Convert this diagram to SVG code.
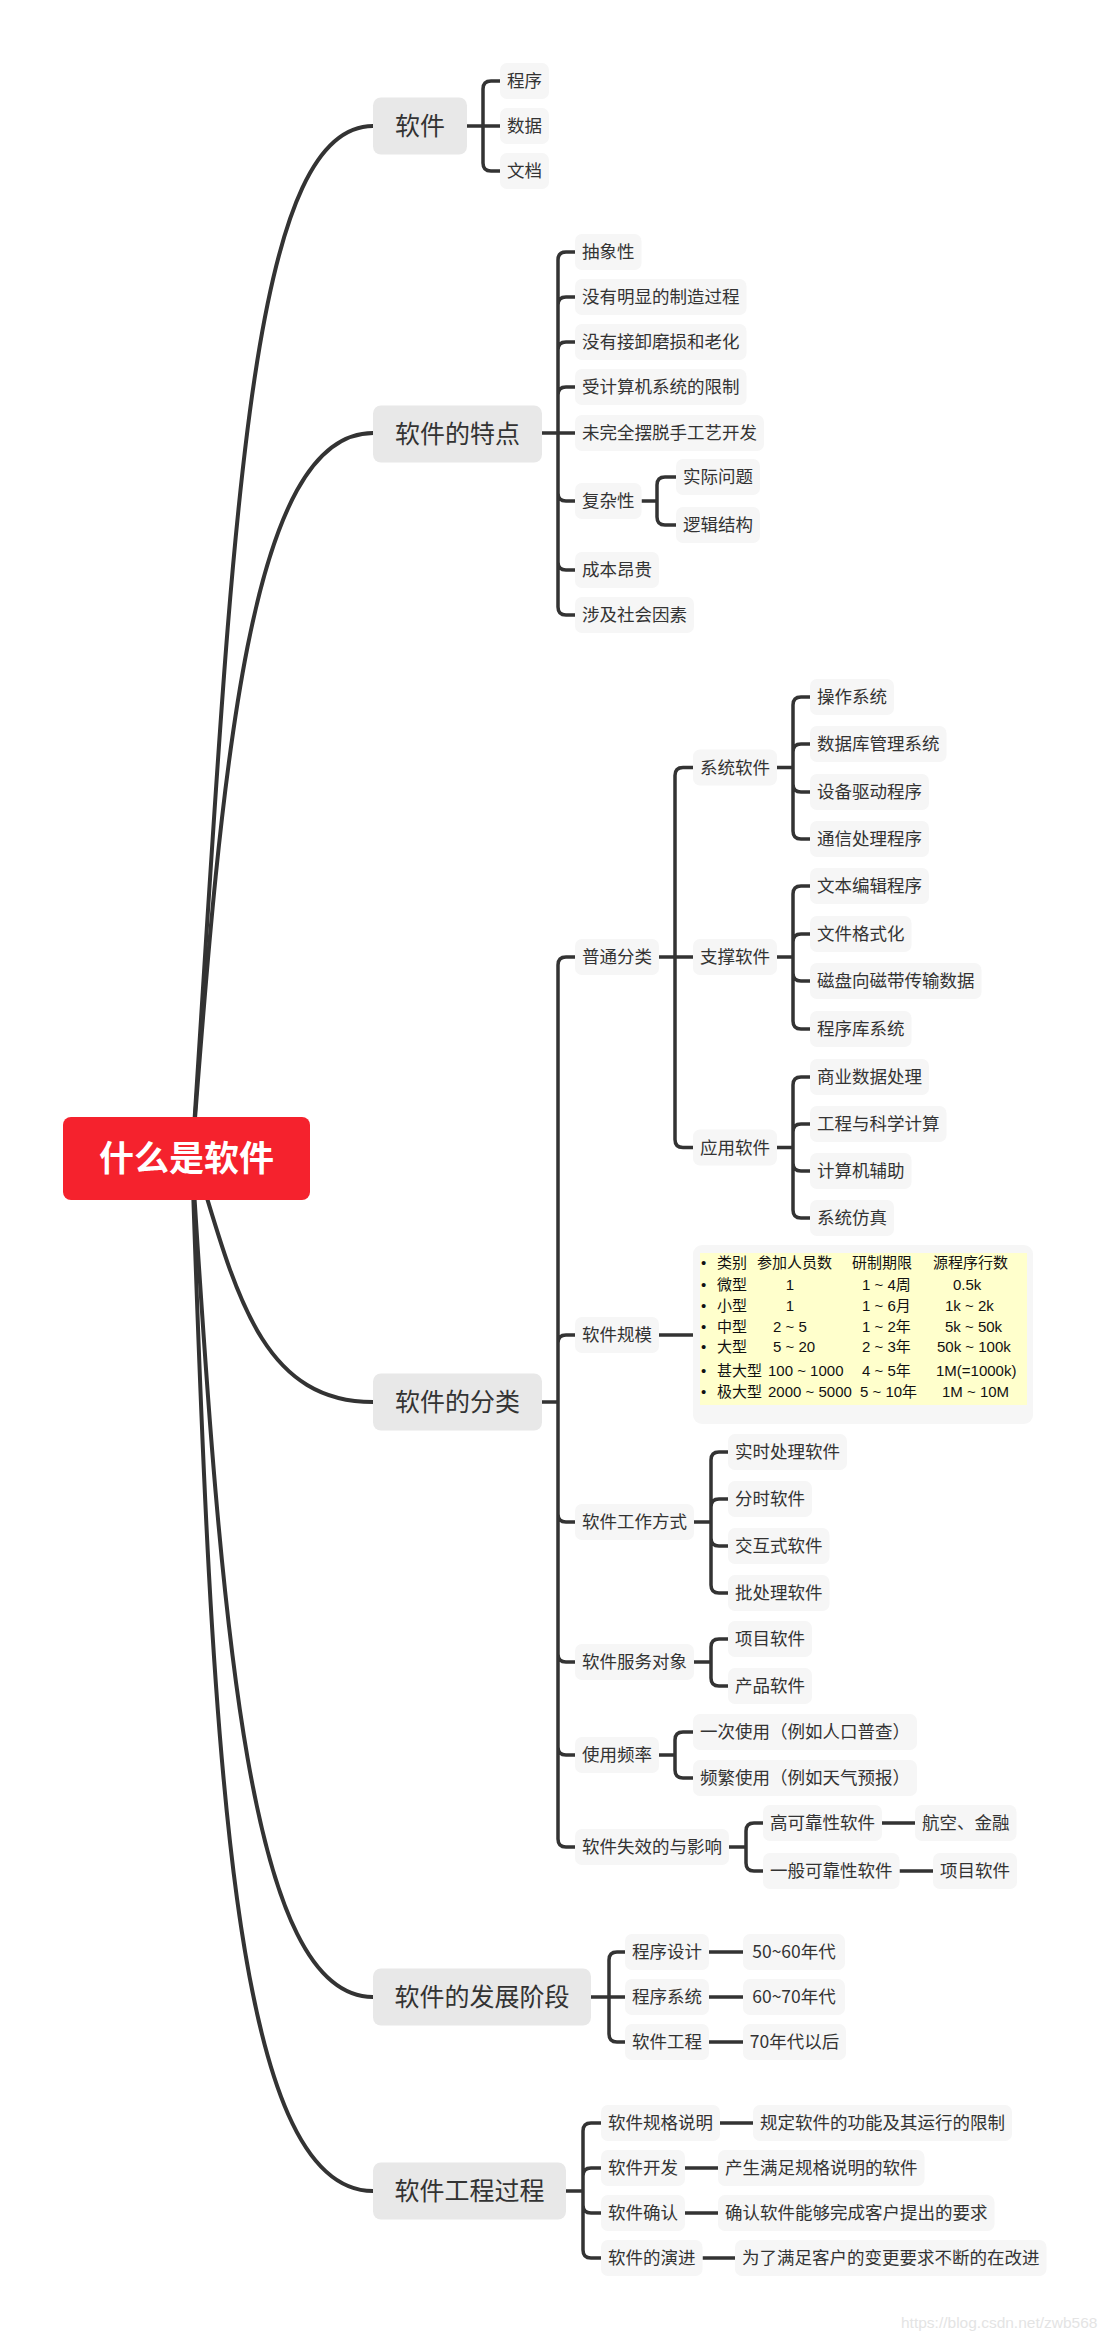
<svg xmlns="http://www.w3.org/2000/svg" width="1110" height="2340" viewBox="0 0 1110 2340">
<style>
.bg{fill:#ffffff}
.c{fill:none;stroke:#333;stroke-width:4;stroke-linecap:round}
.b{fill:none;stroke:#333;stroke-width:3.5;stroke-linecap:butt}
.r1{fill:#e8e8e8}
.r2{fill:#f6f6f6}
.t0{font-family:"Noto Sans CJK SC",sans-serif;font-size:35px;font-weight:bold;fill:#fff;text-anchor:middle}
.t1{font-family:"Noto Sans CJK SC",sans-serif;font-size:25px;fill:#333;text-anchor:middle}
.t2{font-family:"Noto Sans CJK SC",sans-serif;font-size:17.5px;fill:#333;text-anchor:middle}
.tt{font-family:"Liberation Sans","Noto Sans CJK SC",sans-serif;font-size:15px;fill:#111}
.wm{font-family:"Liberation Sans",sans-serif;font-size:15.5px;fill:#e4e4e4}
</style>
<rect class="bg" x="0" y="0" width="1110" height="2340"/>

<g id="connectors">
<path class="c" d="M192 1158 C232 558 244 126 373 126"/>
<path class="c" d="M192 1158 C222 760 250 433 373 433"/>
<path class="c" d="M195 1158 C235 1290 260 1402 373 1402"/>
<path class="c" d="M192 1158 C222 1640 250 1997 373 1997"/>
<path class="c" d="M192 1158 C212 1758 232 2191 373 2191"/>
<!-- 软件 -->
<path class="b" d="M467 126 H500 M483 89 V163 M483 89 Q483 81 491 81 H500 M483 163 Q483 171 491 171 H500"/>
<!-- 软件的特点 -->
<path class="b" d="M542 433 H575 M558 260 V607
M558 260 Q558 252 566 252 H575
M558 305 Q558 297 566 297 H575
M558 350 Q558 342 566 342 H575
M558 395 Q558 387 566 387 H575
M558 493 Q558 501 566 501 H575
M558 562 Q558 570 566 570 H575
M558 607 Q558 615 566 615 H575"/>
<path class="b" d="M641.5 501 H657 M657 485 V517 M657 485 Q657 477 665 477 H676 M657 517 Q657 525 665 525 H676"/>
<!-- 软件的分类 -->
<path class="b" d="M542 1402 H558 M558 965 V1839
M558 965 Q558 957 566 957 H575
M558 1343 Q558 1335 566 1335 H575
M558 1514 Q558 1522 566 1522 H575
M558 1654 Q558 1662 566 1662 H575
M558 1747 Q558 1755 566 1755 H575
M558 1839 Q558 1847 566 1847 H575"/>
<path class="b" d="M659 957 H693 M675 775.5 V1139.5 M675 775.5 Q675 767.5 683 767.5 H693 M675 1139.5 Q675 1147.5 683 1147.5 H693"/>
<path class="b" d="M777 767.5 H793 M793 705 V831
M793 705 Q793 697 801 697 H810
M793 752 Q793 744 801 744 H810
M793 784 Q793 792 801 792 H810
M793 831 Q793 839 801 839 H810"/>
<path class="b" d="M777 957 H793 M793 894 V1021
M793 894 Q793 886 801 886 H810
M793 942 Q793 934 801 934 H810
M793 973 Q793 981 801 981 H810
M793 1021 Q793 1029 801 1029 H810"/>
<path class="b" d="M777 1147.5 H793 M793 1085 V1210
M793 1085 Q793 1077 801 1077 H810
M793 1132 Q793 1124 801 1124 H810
M793 1163 Q793 1171 801 1171 H810
M793 1210 Q793 1218 801 1218 H810"/>
<path class="b" d="M659 1335 H693"/>
<path class="b" d="M694 1522 H711 M711 1460 V1585
M711 1460 Q711 1452 719 1452 H728
M711 1507 Q711 1499 719 1499 H728
M711 1538 Q711 1546 719 1546 H728
M711 1585 Q711 1593 719 1593 H728"/>
<path class="b" d="M694 1662 H711 M711 1647 V1678 M711 1647 Q711 1639 719 1639 H728 M711 1678 Q711 1686 719 1686 H728"/>
<path class="b" d="M659 1755 H675 M675 1740 V1770 M675 1740 Q675 1732 683 1732 H693 M675 1770 Q675 1778 683 1778 H693"/>
<path class="b" d="M729 1847 H746 M746 1831 V1863 M746 1831 Q746 1823 754 1823 H763 M746 1863 Q746 1871 754 1871 H763"/>
<path class="b" d="M882 1823 H915 M899.5 1871 H933"/>
<!-- 软件的发展阶段 -->
<path class="b" d="M591 1997 H625 M609 1960 V2034 M609 1960 Q609 1952 617 1952 H625 M609 2034 Q609 2042 617 2042 H625"/>
<path class="b" d="M709 1952 H743 M709 1997 H743 M709 2042 H743"/>
<!-- 软件工程过程 -->
<path class="b" d="M566 2191 H583 M583 2131 V2250
M583 2131 Q583 2123 591 2123 H601
M583 2176 Q583 2168 591 2168 H601
M583 2205 Q583 2213 591 2213 H601
M583 2250 Q583 2258 591 2258 H601"/>
<path class="b" d="M720 2123 H753 M685 2168 H718 M685 2213 H718 M702.5 2258 H735"/>
</g>

<g id="root"><rect x="63" y="1117" width="247" height="83" rx="8" fill="#f5222d"/><text class="t0" x="186.5" y="1171">什么是软件</text></g>

<g id="n1"><rect class="r1" x="373" y="97.5" width="94" height="57" rx="8"/><text class="t1" x="420" y="135">软件</text></g>
<g id="n1a"><rect class="r2" x="500" y="63" width="49" height="36" rx="7"/><text class="t2" x="524.5" y="87">程序</text></g>
<g id="n1b"><rect class="r2" x="500" y="108" width="49" height="36" rx="7"/><text class="t2" x="524.5" y="132">数据</text></g>
<g id="n1c"><rect class="r2" x="500" y="153" width="49" height="36" rx="7"/><text class="t2" x="524.5" y="177">文档</text></g>

<g id="n2"><rect class="r1" x="373" y="405.5" width="169" height="57" rx="8"/><text class="t1" x="457.5" y="443">软件的特点</text></g>
<g id="n2a"><rect class="r2" x="575" y="234" width="66.5" height="36" rx="7"/><text class="t2" x="608.25" y="258">抽象性</text></g>
<g id="n2b"><rect class="r2" x="575" y="279" width="171.5" height="36" rx="7"/><text class="t2" x="660.75" y="303">没有明显的制造过程</text></g>
<g id="n2c"><rect class="r2" x="575" y="324" width="171.5" height="36" rx="7"/><text class="t2" x="660.75" y="348">没有接卸磨损和老化</text></g>
<g id="n2d"><rect class="r2" x="575" y="369" width="171.5" height="36" rx="7"/><text class="t2" x="660.75" y="393">受计算机系统的限制</text></g>
<g id="n2e"><rect class="r2" x="575" y="415" width="189" height="36" rx="7"/><text class="t2" x="669.5" y="439">未完全摆脱手工艺开发</text></g>
<g id="n2f"><rect class="r2" x="575" y="483" width="66.5" height="36" rx="7"/><text class="t2" x="608.25" y="507">复杂性</text></g>
<g id="n2f1"><rect class="r2" x="676" y="459" width="84" height="36" rx="7"/><text class="t2" x="718" y="483">实际问题</text></g>
<g id="n2f2"><rect class="r2" x="676" y="507" width="84" height="36" rx="7"/><text class="t2" x="718" y="531">逻辑结构</text></g>
<g id="n2g"><rect class="r2" x="575" y="552" width="84" height="36" rx="7"/><text class="t2" x="617" y="576">成本昂贵</text></g>
<g id="n2h"><rect class="r2" x="575" y="597" width="119" height="36" rx="7"/><text class="t2" x="634.5" y="621">涉及社会因素</text></g>

<g id="n3"><rect class="r1" x="373" y="1373.5" width="169" height="57" rx="8"/><text class="t1" x="457.5" y="1411">软件的分类</text></g>
<g id="n3a"><rect class="r2" x="575" y="939" width="84" height="36" rx="7"/><text class="t2" x="617" y="963">普通分类</text></g>
<g id="n3a1"><rect class="r2" x="693" y="749.5" width="84" height="36" rx="7"/><text class="t2" x="735" y="773.5">系统软件</text></g>
<g id="n3a1a"><rect class="r2" x="810" y="679" width="84" height="36" rx="7"/><text class="t2" x="852" y="703">操作系统</text></g>
<g id="n3a1b"><rect class="r2" x="810" y="726" width="136.5" height="36" rx="7"/><text class="t2" x="878.25" y="750">数据库管理系统</text></g>
<g id="n3a1c"><rect class="r2" x="810" y="774" width="119" height="36" rx="7"/><text class="t2" x="869.5" y="798">设备驱动程序</text></g>
<g id="n3a1d"><rect class="r2" x="810" y="821" width="119" height="36" rx="7"/><text class="t2" x="869.5" y="845">通信处理程序</text></g>
<g id="n3a2"><rect class="r2" x="693" y="939" width="84" height="36" rx="7"/><text class="t2" x="735" y="963">支撑软件</text></g>
<g id="n3a2a"><rect class="r2" x="810" y="868" width="119" height="36" rx="7"/><text class="t2" x="869.5" y="892">文本编辑程序</text></g>
<g id="n3a2b"><rect class="r2" x="810" y="916" width="101.5" height="36" rx="7"/><text class="t2" x="860.75" y="940">文件格式化</text></g>
<g id="n3a2c"><rect class="r2" x="810" y="963" width="171.5" height="36" rx="7"/><text class="t2" x="895.75" y="987">磁盘向磁带传输数据</text></g>
<g id="n3a2d"><rect class="r2" x="810" y="1011" width="101.5" height="36" rx="7"/><text class="t2" x="860.75" y="1035">程序库系统</text></g>
<g id="n3a3"><rect class="r2" x="693" y="1129.5" width="84" height="36" rx="7"/><text class="t2" x="735" y="1153.5">应用软件</text></g>
<g id="n3a3a"><rect class="r2" x="810" y="1059" width="119" height="36" rx="7"/><text class="t2" x="869.5" y="1083">商业数据处理</text></g>
<g id="n3a3b"><rect class="r2" x="810" y="1106" width="136.5" height="36" rx="7"/><text class="t2" x="878.25" y="1130">工程与科学计算</text></g>
<g id="n3a3c"><rect class="r2" x="810" y="1153" width="101.5" height="36" rx="7"/><text class="t2" x="860.75" y="1177">计算机辅助</text></g>
<g id="n3a3d"><rect class="r2" x="810" y="1200" width="84" height="36" rx="7"/><text class="t2" x="852" y="1224">系统仿真</text></g>

<g id="n3b"><rect class="r2" x="575" y="1317" width="84" height="36" rx="7"/><text class="t2" x="617" y="1341">软件规模</text></g>
<g id="n3b1">
<rect x="693" y="1245" width="340" height="179" rx="9" fill="#f6f6f6"/>
<rect x="700" y="1253" width="327" height="152" fill="#ffffcc"/>
<g class="tt">
<text x="701" y="1268">•</text><text x="717" y="1268">类别</text><text x="757" y="1268">参加人员数</text><text x="852" y="1268">研制期限</text><text x="933" y="1268">源程序行数</text>
<text x="701" y="1290">•</text><text x="717" y="1290">微型</text><text x="790" y="1290" text-anchor="middle">1</text><text x="862" y="1290">1 ~ 4周</text><text x="953" y="1290">0.5k</text>
<text x="701" y="1311">•</text><text x="717" y="1311">小型</text><text x="790" y="1311" text-anchor="middle">1</text><text x="862" y="1311">1 ~ 6月</text><text x="945" y="1311">1k ~ 2k</text>
<text x="701" y="1332">•</text><text x="717" y="1332">中型</text><text x="773" y="1332">2 ~ 5</text><text x="862" y="1332">1 ~ 2年</text><text x="945" y="1332">5k ~ 50k</text>
<text x="701" y="1352">•</text><text x="717" y="1352">大型</text><text x="773" y="1352">5 ~ 20</text><text x="862" y="1352">2 ~ 3年</text><text x="937" y="1352">50k ~ 100k</text>
<text x="701" y="1376">•</text><text x="717" y="1376">甚大型</text><text x="768" y="1376">100 ~ 1000</text><text x="862" y="1376">4 ~ 5年</text><text x="936" y="1376">1M(=1000k)</text>
<text x="701" y="1397">•</text><text x="717" y="1397">极大型</text><text x="768" y="1397">2000 ~ 5000</text><text x="860" y="1397">5 ~ 10年</text><text x="942" y="1397">1M ~ 10M</text>
</g>
</g>

<g id="n3c"><rect class="r2" x="575" y="1504" width="119" height="36" rx="7"/><text class="t2" x="634.5" y="1528">软件工作方式</text></g>
<g id="n3c1"><rect class="r2" x="728" y="1434" width="119" height="36" rx="7"/><text class="t2" x="787.5" y="1458">实时处理软件</text></g>
<g id="n3c2"><rect class="r2" x="728" y="1481" width="84" height="36" rx="7"/><text class="t2" x="770" y="1505">分时软件</text></g>
<g id="n3c3"><rect class="r2" x="728" y="1528" width="101.5" height="36" rx="7"/><text class="t2" x="778.75" y="1552">交互式软件</text></g>
<g id="n3c4"><rect class="r2" x="728" y="1575" width="101.5" height="36" rx="7"/><text class="t2" x="778.75" y="1599">批处理软件</text></g>

<g id="n3d"><rect class="r2" x="575" y="1644" width="119" height="36" rx="7"/><text class="t2" x="634.5" y="1668">软件服务对象</text></g>
<g id="n3d1"><rect class="r2" x="728" y="1621" width="84" height="36" rx="7"/><text class="t2" x="770" y="1645">项目软件</text></g>
<g id="n3d2"><rect class="r2" x="728" y="1668" width="84" height="36" rx="7"/><text class="t2" x="770" y="1692">产品软件</text></g>

<g id="n3e"><rect class="r2" x="575" y="1737" width="84" height="36" rx="7"/><text class="t2" x="617" y="1761">使用频率</text></g>
<g id="n3e1"><rect class="r2" x="693" y="1714" width="224" height="36" rx="7"/><text class="t2" x="805" y="1738">一次使用（例如人口普查）</text></g>
<g id="n3e2"><rect class="r2" x="693" y="1760" width="224" height="36" rx="7"/><text class="t2" x="805" y="1784">频繁使用（例如天气预报）</text></g>

<g id="n3f"><rect class="r2" x="575" y="1829" width="154" height="36" rx="7"/><text class="t2" x="652" y="1853">软件失效的与影响</text></g>
<g id="n3f1"><rect class="r2" x="763" y="1805" width="119" height="36" rx="7"/><text class="t2" x="822.5" y="1829">高可靠性软件</text></g>
<g id="n3f1a"><rect class="r2" x="915" y="1805" width="101.5" height="36" rx="7"/><text class="t2" x="965.75" y="1829">航空、金融</text></g>
<g id="n3f2"><rect class="r2" x="763" y="1853" width="136.5" height="36" rx="7"/><text class="t2" x="831.25" y="1877">一般可靠性软件</text></g>
<g id="n3f2a"><rect class="r2" x="933" y="1853" width="84" height="36" rx="7"/><text class="t2" x="975" y="1877">项目软件</text></g>

<g id="n4"><rect class="r1" x="373" y="1968.5" width="218" height="57" rx="8"/><text class="t1" x="482" y="2006">软件的发展阶段</text></g>
<g id="n4a"><rect class="r2" x="625" y="1934" width="84" height="36" rx="7"/><text class="t2" x="667" y="1958">程序设计</text></g>
<g id="n4a1"><rect class="r2" x="743" y="1934" width="102" height="36" rx="7"/><text class="t2" x="794" y="1958">50~60年代</text></g>
<g id="n4b"><rect class="r2" x="625" y="1979" width="84" height="36" rx="7"/><text class="t2" x="667" y="2003">程序系统</text></g>
<g id="n4b1"><rect class="r2" x="743" y="1979" width="102" height="36" rx="7"/><text class="t2" x="794" y="2003">60~70年代</text></g>
<g id="n4c"><rect class="r2" x="625" y="2024" width="84" height="36" rx="7"/><text class="t2" x="667" y="2048">软件工程</text></g>
<g id="n4c1"><rect class="r2" x="743" y="2024" width="103" height="36" rx="7"/><text class="t2" x="794.5" y="2048">70年代以后</text></g>

<g id="n5"><rect class="r1" x="373" y="2162.5" width="193" height="57" rx="8"/><text class="t1" x="469.5" y="2200">软件工程过程</text></g>
<g id="n5a"><rect class="r2" x="601" y="2105" width="119" height="36" rx="7"/><text class="t2" x="660.5" y="2129">软件规格说明</text></g>
<g id="n5a1"><rect class="r2" x="753" y="2105" width="259" height="36" rx="7"/><text class="t2" x="882.5" y="2129">规定软件的功能及其运行的限制</text></g>
<g id="n5b"><rect class="r2" x="601" y="2150" width="84" height="36" rx="7"/><text class="t2" x="643" y="2174">软件开发</text></g>
<g id="n5b1"><rect class="r2" x="718" y="2150" width="206.5" height="36" rx="7"/><text class="t2" x="821.25" y="2174">产生满足规格说明的软件</text></g>
<g id="n5c"><rect class="r2" x="601" y="2195" width="84" height="36" rx="7"/><text class="t2" x="643" y="2219">软件确认</text></g>
<g id="n5c1"><rect class="r2" x="718" y="2195" width="276.5" height="36" rx="7"/><text class="t2" x="856.25" y="2219">确认软件能够完成客户提出的要求</text></g>
<g id="n5d"><rect class="r2" x="601" y="2240" width="101.5" height="36" rx="7"/><text class="t2" x="651.75" y="2264">软件的演进</text></g>
<g id="n5d1"><rect class="r2" x="735" y="2240" width="311.5" height="36" rx="7"/><text class="t2" x="890.75" y="2264">为了满足客户的变更要求不断的在改进</text></g>

<text class="wm" x="901" y="2328">https://blog.csdn.net/zwb568</text>
</svg>
